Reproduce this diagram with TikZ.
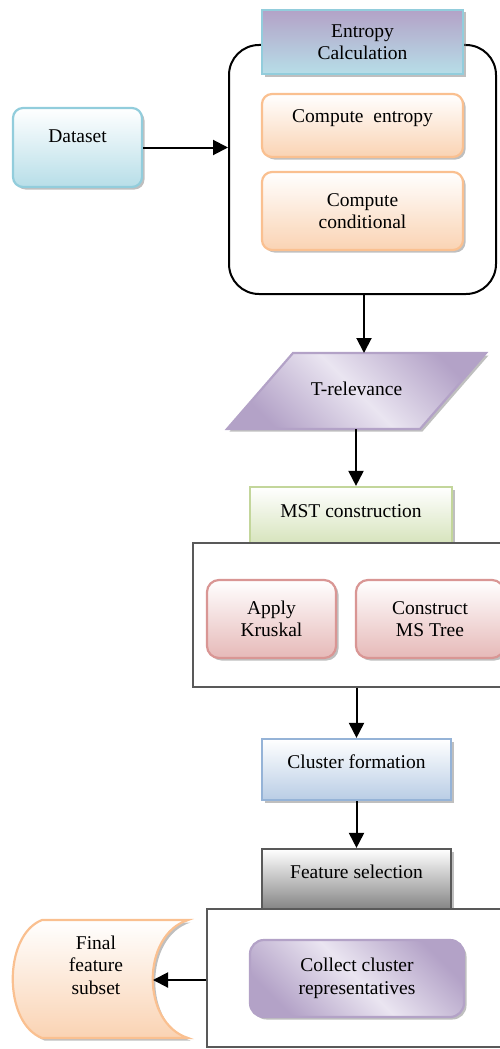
\documentclass[tikz,border=0pt]{standalone}
\usepackage{fontspec}
\setmainfont{Liberation Serif}
\usetikzlibrary{arrows.meta,shadows}

\definecolor{tealline}{HTML}{92CDDC}
\definecolor{tealfill}{HTML}{B7DEE8}
\definecolor{purpline}{HTML}{B3A2C7}
\definecolor{purplite}{HTML}{EAE5F1}
\definecolor{orgline}{HTML}{FAC090}
\definecolor{orgfill}{HTML}{FAD3B3}
\definecolor{grnline}{HTML}{C3D69B}
\definecolor{grnfill}{HTML}{D7E4BD}
\definecolor{redline}{HTML}{D99694}
\definecolor{redfill}{HTML}{E6B9B8}
\definecolor{bluline}{HTML}{95B3D7}
\definecolor{blufill}{HTML}{B9CDE5}
\definecolor{gryline}{HTML}{595959}
\definecolor{gryfill}{HTML}{858585}

\newcommand{\boxfont}{\fontsize{19.5}{22.5}\selectfont}

\tikzset{
  shbox/.style={line width=2.2pt, align=center, font=\boxfont,
    drop shadow={shadow xshift=2.5pt,shadow yshift=-2.5pt,fill=black!50}},
  tealbox/.style={shbox, draw=tealline, top color=white, bottom color=tealfill},
  orgbox/.style={shbox, draw=orgline, top color=white, bottom color=orgfill},
  grnbox/.style={shbox, draw=grnline, top color=white, bottom color=grnfill},
  redbox/.style={shbox, draw=redline, top color=white, bottom color=redfill},
  blubox/.style={shbox, draw=bluline, top color=white, bottom color=blufill},
  grybox/.style={shbox, draw=gryline, top color=white, bottom color=gryfill},
  purpbox/.style={shbox, draw=purpline, top color=purpline, bottom color=purpline,
    middle color=purplite, shading angle=-45},
  frame/.style={draw=gryline, line width=1.4pt, fill=white},
  flow/.style={line width=2pt, -{Triangle[length=15pt,width=15pt]}}
}

\begin{document}
\begin{tikzpicture}[x=1pt,y=-1pt]
\useasboundingbox (0,0) rectangle (499,1049);

% entropy part
\node[tealbox, rounded corners=10pt, minimum width=129pt, minimum height=79pt,
      text depth=22pt] (dataset) at (77.5,147.5) {Dataset};
\node[draw, line width=2pt, rounded corners=30pt, minimum width=267pt,
      minimum height=249pt] (calc) at (362.5,169.5) {};
\node[shbox, draw=tealline, top color=purpline, bottom color=tealfill,
      minimum width=201pt, minimum height=64pt] (entropy) at (362.5,42)
      {Entropy\\Calculation};
\node[orgbox, rounded corners=10pt, minimum width=201pt, minimum height=63pt,
      text depth=18pt] (centropy) at (362.5,125.5) {Compute\ \ entropy};
\node[orgbox, rounded corners=10pt, minimum width=201pt, minimum height=78pt]
      (ccond) at (362.5,211) {Compute\\conditional};
\draw[flow] (dataset.east) -- (dataset.east -| calc.west);

% T-relevance
\path[purpbox]
  (293,353) -- (486,353) -- (420,429) -- (227,429) -- cycle;
\node[font=\boxfont] (trel) at (356.5,389) {T-relevance};
\coordinate (treltop) at (364,353);
\coordinate (trelbot) at (356,429);
\draw[flow] (treltop |- calc.south) -- (treltop);

% MST
\node[grnbox, minimum width=202pt, minimum height=56pt, text depth=8pt]
      (mst) at (351,515) {MST construction};
\node[frame, minimum width=309pt, minimum height=144pt] (mstframe)
      at (347.5,615) {};
\node[redbox, rounded corners=12pt, minimum width=129pt, minimum height=78pt]
      (kruskal) at (271.5,619) {Apply\\Kruskal};
\node[redbox, rounded corners=12pt, minimum width=148pt, minimum height=78pt]
      (mstree) at (430,619) {Construct\\MS Tree};
\draw[flow] (trelbot) -- (trelbot |- mst.north);

% clusters
\node[blubox, minimum width=189pt, minimum height=61pt, text depth=16pt]
      (cluster) at (356.5,769.5) {Cluster formation};
\node[grybox, minimum width=189pt, minimum height=60pt, text depth=14pt]
      (fsel) at (356.5,879) {Feature selection};
\node[frame, minimum width=295pt, minimum height=138pt] (selframe)
      at (354.5,978) {};
\node[purpbox, rounded corners=14pt, minimum width=214pt, minimum height=77pt]
      (collect) at (357,978.5) {Collect cluster\\representatives};
\draw[flow] (cluster.north |- mstframe.south) -- (cluster.north);
\draw[flow] (cluster.south) -- (fsel.north);

% final subset
\path[shbox, draw=orgline, top color=white, bottom color=orgfill]
  (188,920) -- (42,920) .. controls (3,935) and (3,1023) .. (42,1038)
  -- (188,1038) .. controls (141,1023) and (141,935) .. (188,920) -- cycle;
\node[font=\boxfont, align=center] (final) at (96,965) {Final\\feature\\subset};
\coordinate (finalin) at (153,980);
\draw[flow] (selframe.west |- finalin) -- (finalin);
\end{tikzpicture}
\end{document}
